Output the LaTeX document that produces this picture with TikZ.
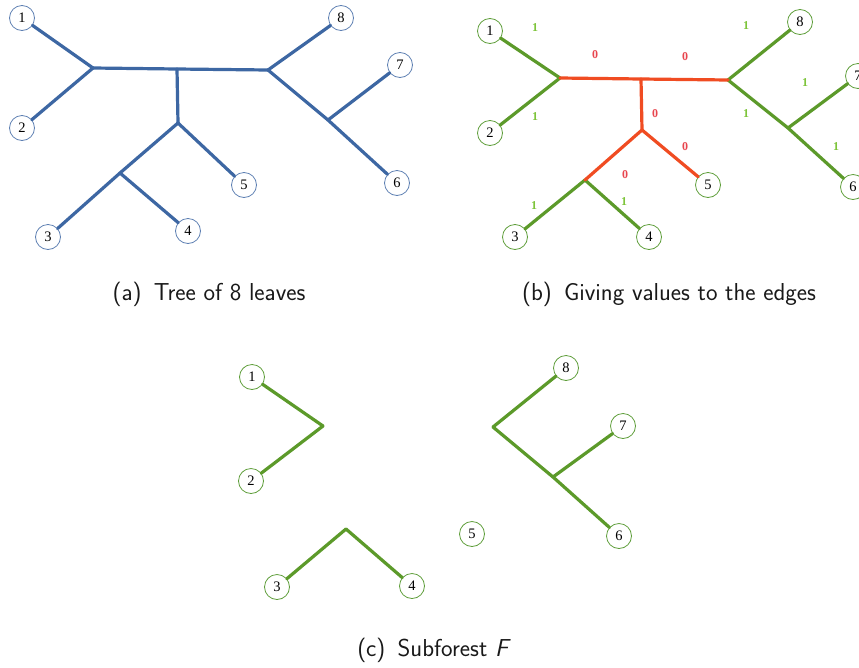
\documentclass[tikz,border=0pt]{standalone}
\usepackage{fontspec}
\newfontfamily\leaffont{Liberation Serif}
\definecolor{treeblue}{HTML}{3D67A3}
\definecolor{circblue}{HTML}{5E80B3}
\definecolor{treegreen}{HTML}{5C9A2A}
\definecolor{circgreen}{HTML}{5E9E3A}
\definecolor{treered}{HTML}{F04C22}
\definecolor{labgreen}{HTML}{7DC43A}
\definecolor{labred}{HTML}{E8454E}
\tikzset{
  leafA/.style={circle,draw=circblue,line width=0.8pt,fill=white,minimum size=25pt,inner sep=0pt,font=\leaffont\fontsize{14.5}{14.5}\selectfont},
  leafG/.style={leafA,draw=circgreen},
  edgeB/.style={draw=treeblue,line width=3.2pt,line cap=round},
  edgeG/.style={draw=treegreen,line width=3.2pt,line cap=round},
  edgeR/.style={draw=treered,line width=3.2pt,line cap=round},
  labone/.style={text=labgreen,font=\leaffont\bfseries\fontsize{12}{12}\selectfont},
  labzero/.style={text=labred,font=\leaffont\bfseries\fontsize{12}{12}\selectfont},
  capt/.style={font=\sffamily\fontsize{24.5}{28}\selectfont,text=black!90}
}
\begin{document}
\begin{tikzpicture}[x=1pt,y=-1pt]
\clip (0,0) rectangle (859,667);
\fill[white] (0,0) rectangle (859,667);
% ---------- panel (a)
\coordinate (aA) at (93,68);
\coordinate (aB) at (177,69);
\coordinate (aC) at (268,70);
\coordinate (aD) at (178,123);
\coordinate (aE) at (120,173);
\coordinate (aG) at (328,120);
\draw[edgeB] (aA) -- (aB) -- (aC);
\draw[edgeB] (aB) -- (aD);
\draw[edgeB] (aD) -- (aE);
\draw[edgeB] (aC) -- (aG);
\node[leafA] (a1) at (22,18) {1};
\node[leafA] (a2) at (22,128) {2};
\node[leafA] (a3) at (48,237) {3};
\node[leafA] (a4) at (188,231) {4};
\node[leafA] (a5) at (244,185) {5};
\node[leafA] (a6) at (397,183) {6};
\node[leafA] (a7) at (400,65) {7};
\node[leafA] (a8) at (341,18) {8};
\draw[edgeB] (aA) -- (a1);
\draw[edgeB] (aA) -- (a2);
\draw[edgeB] (aE) -- (a3);
\draw[edgeB] (aE) -- (a4);
\draw[edgeB] (aD) -- (a5);
\draw[edgeB] (aG) -- (a6);
\draw[edgeB] (aG) -- (a7);
\draw[edgeB] (aC) -- (a8);
\node[capt] (capa) at (209,294) {(a)\enspace Tree of 8 leaves};
% ---------- panel (b)
\coordinate (bA) at (560,78);
\coordinate (bB) at (641,79);
\coordinate (bC) at (728,80);
\coordinate (bD) at (642,130);
\coordinate (bE) at (585,180);
\coordinate (bG) at (788,128);
\node[leafG] (b1) at (490,31) {1};
\node[leafG] (b2) at (490,133) {2};
\node[leafG] (b3) at (515,237) {3};
\node[leafG] (b4) at (649,237) {4};
\node[leafG] (b5) at (708,185) {5};
\node[leafG] (b6) at (853,187) {6};
\node[leafG] (b7) at (858,76) {7};
\node[leafG] (b8) at (800,22) {8};
\draw[edgeG] (bA) -- (b1);
\draw[edgeG] (bA) -- (b2);
\draw[edgeG] (bE) -- (b3);
\draw[edgeG] (bE) -- (b4);
\draw[edgeG] (bC) -- (b8);
\draw[edgeG] (bC) -- (bG);
\draw[edgeG] (bG) -- (b6);
\draw[edgeG] (bG) -- (b7);
\draw[edgeR] (bA) -- (bB) -- (bC);
\draw[edgeR] (bB) -- (bD) -- (bE);
\draw[edgeR] (bD) -- (b5);
\node[labone] (l1) at (535,28) {1};
\node[labone] (l2) at (535,117) {1};
\node[labzero] (l3) at (595,55) {0};
\node[labzero] (l4) at (685,57) {0};
\node[labone] (l5) at (746,26) {1};
\node[labone] (l6) at (805,83) {1};
\node[labone] (l7) at (746,114) {1};
\node[labone] (l8) at (836,147) {1};
\node[labzero] (l9) at (655,114) {0};
\node[labzero] (l10) at (685,147) {0};
\node[labzero] (l11) at (625,175) {0};
\node[labone] (l12) at (534,206) {1};
\node[labone] (l13) at (624,202) {1};
\node[capt] (capb) at (669,294) {(b)\enspace Giving values to the edges};
% ---------- panel (c)
\coordinate (cA) at (323,426);
\coordinate (cE) at (346,529);
\coordinate (cC) at (493,427);
\coordinate (cG) at (553,477);
\node[leafG] (c1) at (252,377) {1};
\node[leafG] (c2) at (251,481) {2};
\node[leafG] (c3) at (277,587) {3};
\node[leafG] (c4) at (412,586) {4};
\node[leafG] (c5) at (472,534) {5};
\node[leafG] (c6) at (619,536) {6};
\node[leafG] (c7) at (623,426) {7};
\node[leafG] (c8) at (566,368) {8};
\draw[edgeG] (cA) -- (c1);
\draw[edgeG] (cA) -- (c2);
\draw[edgeG] (cE) -- (c3);
\draw[edgeG] (cE) -- (c4);
\draw[edgeG] (cC) -- (c8);
\draw[edgeG] (cC) -- (cG);
\draw[edgeG] (cG) -- (c6);
\draw[edgeG] (cG) -- (c7);
\node[capt] (capc) at (434,650) {(c)\enspace Subforest \textit{F}};
\end{tikzpicture}
\end{document}
